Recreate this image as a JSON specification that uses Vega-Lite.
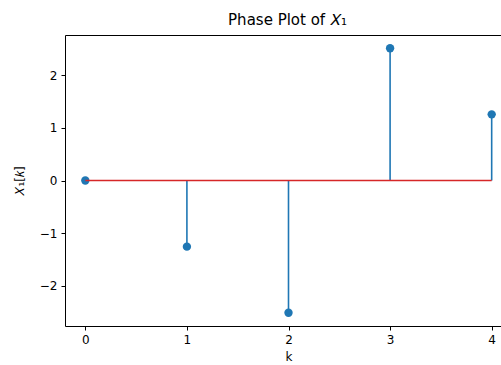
{
  "$schema": "https://vega.github.io/schema/vega-lite/v6.json",
  "autosize": {"type": "none"},
  "padding": {"left": 65, "top": 35, "right": 0, "bottom": 39},
  "width": 447,
  "height": 291,
  "background": "white",
  "config": {
    "font": "DejaVu Sans",
    "view": {"stroke": "#000000", "strokeWidth": 1},
    "axis": {
      "grid": false,
      "domain": false,
      "tickColor": "#000000",
      "tickSize": 4,
      "labelFont": "DejaVu Sans",
      "labelFontSize": 12,
      "labelColor": "#000000",
      "titleFont": "DejaVu Sans",
      "titleFontSize": 12,
      "titleFontWeight": "normal",
      "titleColor": "#000000"
    }
  },
  "title": {
    "text": "Phase Plot of 𝑋₁",
    "fontSize": 15,
    "fontWeight": "normal",
    "font": "DejaVu Sans",
    "color": "#000000",
    "anchor": "middle",
    "offset": 7,
    "frame": "group",
    "dx": -1
  },
  "data": {
    "values": [
      {"k": 0, "v": 0.0},
      {"k": 1, "v": -1.2566},
      {"k": 2, "v": -2.5133},
      {"k": 3, "v": 2.5133},
      {"k": 4, "v": 1.2566}
    ]
  },
  "encoding": {
    "x": {
      "field": "k",
      "type": "quantitative",
      "scale": {"domain": [-0.2, 4.2], "nice": false, "zero": false},
      "axis": {"values": [0, 1, 2, 3, 4], "format": "d", "title": "k", "labelPadding": 4, "titlePadding": 6}
    }
  },
  "layer": [
    {
      "mark": {"type": "rule", "color": "#1f77b4", "strokeWidth": 1.6},
      "encoding": {
        "y": {
          "field": "v",
          "type": "quantitative",
          "scale": {"domain": [-2.764, 2.764], "nice": false, "zero": false},
          "axis": {"values": [-2, -1, 0, 1, 2], "format": "d", "title": "𝑋₁[𝑘]", "labelPadding": 4, "titlePadding": 13}
        },
        "y2": {"datum": 0}
      }
    },
    {
      "mark": {"type": "point", "filled": true, "shape": "circle", "color": "#1f77b4", "opacity": 1, "size": 70},
      "encoding": {"y": {"field": "v", "type": "quantitative"}}
    },
    {
      "mark": {"type": "line", "color": "#d62728", "strokeWidth": 1.6},
      "encoding": {"y": {"datum": 0}}
    }
  ]
}
